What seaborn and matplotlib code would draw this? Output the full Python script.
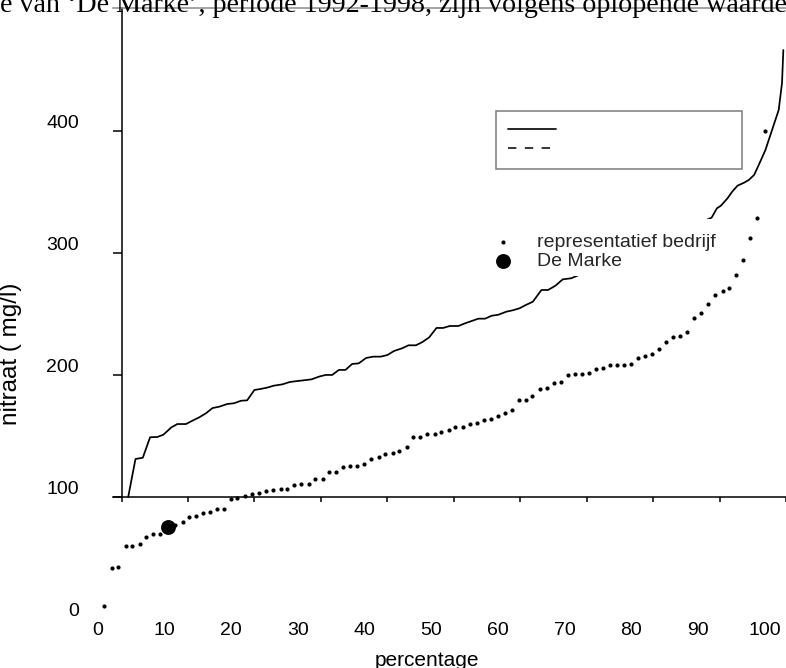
import matplotlib
matplotlib.use("Agg")
import matplotlib.pyplot as plt
from matplotlib.lines import Line2D
from matplotlib.patches import Rectangle
import seaborn as sns

# ---------------- data ----------------
pct_bedrijf = [1.0, 2.1, 3.1, 4.2, 5.2, 6.3, 7.3, 8.3, 9.4, 10.5, 11.5, 12.7, 13.7, 14.7,
               15.7, 16.8, 17.9, 18.9, 19.9, 20.9, 22.1, 23.1, 24.2, 25.2, 26.3, 27.4,
               28.3, 29.4, 30.5, 31.6, 32.6, 33.7, 34.7, 35.7, 36.8, 37.8, 38.9, 39.9,
               41.0, 42.1, 43.1, 44.2, 45.2, 46.3, 47.3, 48.3, 49.4, 50.5, 51.5, 52.6,
               53.6, 54.7, 55.8, 56.8, 57.9, 58.9, 60.0, 61.0, 62.1, 63.1, 64.2, 65.1,
               66.3, 67.3, 68.4, 69.5, 70.5, 71.5, 72.6, 73.6, 74.7, 75.7, 76.8, 77.8,
               78.9, 79.9, 81.0, 82.1, 83.1, 84.1, 85.2, 86.3, 87.3, 88.3, 89.4, 90.5,
               91.5, 92.6, 93.7, 94.7, 95.7, 96.8, 97.8, 98.9, 100.0]
nitraat_bedrijf = [3.1, 34.2, 35.1, 52.0, 52.0, 53.9, 59.6, 62.1, 62.1, 66.7, 69.6, 71.7,
                   75.8, 76.3, 79.3, 80.1, 82.1, 82.3, 90.9, 91.7, 93.0, 94.2, 95.2, 97.2,
                   97.9, 98.5, 98.9, 101.6, 102.5, 102.8, 106.9, 107.1, 112.4, 112.4, 116.7,
                   117.7, 117.8, 119.4, 123.0, 125.1, 127.1, 127.9, 130.1, 132.8, 141.5,
                   141.5, 143.5, 143.5, 145.4, 147.0, 149.2, 149.7, 152.2, 152.5, 155.2,
                   156.0, 158.5, 161.2, 163.4, 171.8, 171.7, 175.1, 180.6, 181.2, 185.7,
                   186.6, 192.1, 192.6, 193.1, 193.9, 196.7, 198.0, 200.2, 200.5, 200.5,
                   200.8, 205.7, 207.9, 209.3, 213.6, 219.3, 223.4, 224.2, 226.9, 239.0,
                   243.2, 250.0, 257.8, 260.8, 263.1, 274.2, 286.2, 304.5, 320.4, 391.9]
pct_marke = [10.5]
nitraat_marke = [67.3]

pct_line = [1.0, 2.1, 3.2, 4.3, 5.4, 6.3, 7.5, 8.4, 9.7, 10.8, 11.7, 12.7, 13.7, 14.7,
            15.9, 16.9, 18.0, 18.9, 20.0, 20.9, 21.9, 22.9, 24.2, 25.3, 26.4, 27.4, 28.6,
            29.7, 30.7, 31.7, 32.7, 33.7, 34.7, 35.7, 36.8, 37.9, 39.0, 40.0, 41.0, 42.2,
            43.2, 44.3, 45.3, 46.3, 47.4, 48.4, 49.4, 50.7, 51.7, 52.7, 53.7, 54.7, 55.7,
            56.7, 57.9, 58.9, 59.9, 60.7, 61.9, 63.2, 64.2, 65.3, 66.4, 67.7, 88.8, 89.6,
            90.2, 91.2, 91.9, 92.7, 93.7, 94.4, 95.2, 95.9, 96.9, 97.9, 98.9, 99.4, 99.6]
nitraat_line = [100.2, 131.4, 132.4, 149.2, 149.4, 151.3, 157.3, 160.0, 160.0, 163.1,
                165.5, 168.8, 173.1, 174.2, 176.4, 177.0, 179.1, 179.4, 187.9, 188.7,
                189.8, 191.4, 192.5, 194.4, 195.2, 195.8, 196.6, 198.8, 200.2, 200.2,
                204.3, 204.3, 209.2, 209.7, 214.1, 215.2, 215.2, 216.5, 219.8, 222.0,
                224.5, 224.5, 227.2, 231.0, 238.7, 238.7, 240.3, 240.3, 242.5, 244.4,
                246.3, 246.3, 248.7, 249.5, 252.0, 253.2, 254.8, 257.1, 260.2, 269.8,
                269.8, 273.3, 278.5, 279.4, 329.0, 336.7, 338.8, 344.9, 350.3, 355.2,
                357.7, 359.9, 364.0, 372.2, 384.4, 400.8, 417.2, 439.3, 466.3]

x_ticks = [0, 10, 20, 30, 40, 50, 60, 70, 80, 90, 100]
y_ticks_labels = [0, 100, 200, 300, 400]
y_ticks_line = [100, 200, 300, 400]
title_text = "e van \u2018De Marke\u2019, periode 1992-1998, zijn volgens oplopende waarde"
label_bedrijf = "representatief bedrijf"
label_marke = "De Marke"

# ---------------- style ----------------
sns.set_style("white")
plt.rcParams['font.family'] = ['Liberation Sans', 'DejaVu Sans']

W, H, DPI = 786, 668, 100
fig = plt.figure(figsize=(W / DPI, H / DPI), dpi=DPI)
SX, SY = 6.67, 1.221


def xlim_for(px0):
    return (-px0 / SX, (W - px0) / SX)


def ylim_for(py0):
    return ((py0 - H) / SY, py0 / SY)


# axes holding the dots and the tick labels
ax1 = fig.add_axes([0, 0, 1, 1])
ax1.set_xlim(*xlim_for(97.8))
ax1.set_ylim(*ylim_for(609.5))
# axes holding the line and the axis lines
ax2 = fig.add_axes([0, 0, 1, 1], facecolor='none')
ax2.set_xlim(*xlim_for(122.0))
ax2.set_ylim(*ylim_for(619.4))

sns.scatterplot(x=pct_bedrijf, y=nitraat_bedrijf, ax=ax1, color='black', s=9,
                linewidth=0, zorder=3)
sns.scatterplot(x=pct_marke, y=nitraat_marke, ax=ax1, color='black', s=115,
                linewidth=0, zorder=4)
sc_small, sc_big = ax1.collections[0], ax1.collections[1]

sns.lineplot(x=pct_line, y=nitraat_line, ax=ax2, color='black', linewidth=1.25,
             estimator=None, sort=False)

# ax1: only tick labels
for s in ax1.spines.values():
    s.set_visible(False)
ax1.spines['bottom'].set_position(('data', -10.0))
ax1.spines['left'].set_position(('data', -2.82))
ax1.set_xticks(x_ticks)
ax1.set_yticks(y_ticks_labels)
ax1.tick_params(axis='both', length=0, pad=0, labelsize=14, colors='black')
ax1.set_xlabel('percentage', fontsize=15, color='black')
ax1.xaxis.set_label_coords(427 / W, 1 - 660 / H)
ax1.xaxis.label.set_va('center')
ax1.set_ylabel('nitraat ( mg/l)', fontsize=17.5, color='black')
ax1.yaxis.set_label_coords(11 / W, 1 - 354 / H)
ax1.yaxis.label.set_va('center')

# ax2: axis lines and tick marks, no labels
ax2.spines['right'].set_visible(False)
ax2.spines['left'].set_position(('data', 0))
ax2.spines['left'].set_bounds(100, 500.5)
ax2.spines['bottom'].set_position(('data', 100))
ax2.spines['bottom'].set_bounds(-1.26, 100)
ax2.spines['top'].set_position(('data', 500.5))
ax2.spines['top'].set_bounds(-1.26, 100)
for k in ['left', 'bottom']:
    ax2.spines[k].set_color('black')
    ax2.spines[k].set_linewidth(1.1)
ax2.spines['top'].set_color('#8a8a8a')
ax2.spines['top'].set_linewidth(1.1)
ax2.set_xticks(x_ticks)
ax2.set_yticks(y_ticks_line)
ax2.tick_params(axis='x', direction='out', length=3.6, width=1.1, color='black',
                labelbottom=False, bottom=True)
ax2.tick_params(axis='y', direction='out', length=6.8, width=1.1, color='black',
                labelleft=False, left=True)
ax2.set_xlabel('')
ax2.set_ylabel('')

# white box hiding part of the line behind the dot legend
fig.add_artist(Rectangle((495 / W, 1 - 276 / H), (713 - 495) / W, (276 - 219) / H,
                         transform=fig.transFigure, facecolor='white',
                         edgecolor='none', zorder=1))

# framed legend with unlabeled line keys
solid_h = Line2D([], [], color='black', lw=1.2)
dash_h = Line2D([], [], color='black', lw=1.1, linestyle=(0, (5.5, 5.5)))
leg1 = fig.legend([solid_h, dash_h], [' ', ' '], loc='upper left',
                  bbox_to_anchor=(496 / W, 1 - 110.5 / H, 246 / W, 0),
                  bbox_transform=fig.transFigure, mode='expand', borderaxespad=0,
                  fontsize=12, handlelength=2.9, labelspacing=0.24, borderpad=0.72,
                  fancybox=False, framealpha=1, edgecolor='#7a7a7a')
leg1.get_frame().set_linewidth(1.1)
leg1.set_zorder(5)

leg2 = fig.legend([sc_small, sc_big], [label_bedrijf, label_marke], loc='upper left',
                  bbox_to_anchor=(493.3 / W, 1 - 233.5 / H),
                  bbox_transform=fig.transFigure, borderaxespad=0, borderpad=0,
                  frameon=False, fontsize=14, handlelength=1.0, handletextpad=1.25,
                  labelspacing=0.05, scatterpoints=1)
leg2.set_zorder(6)

fig.text(0.0, 1 - 12.5 / H, title_text, fontsize=20.15, family=['Liberation Serif'],
         va='baseline', ha='left', color='black')

fig.savefig('out.png', dpi=DPI)
